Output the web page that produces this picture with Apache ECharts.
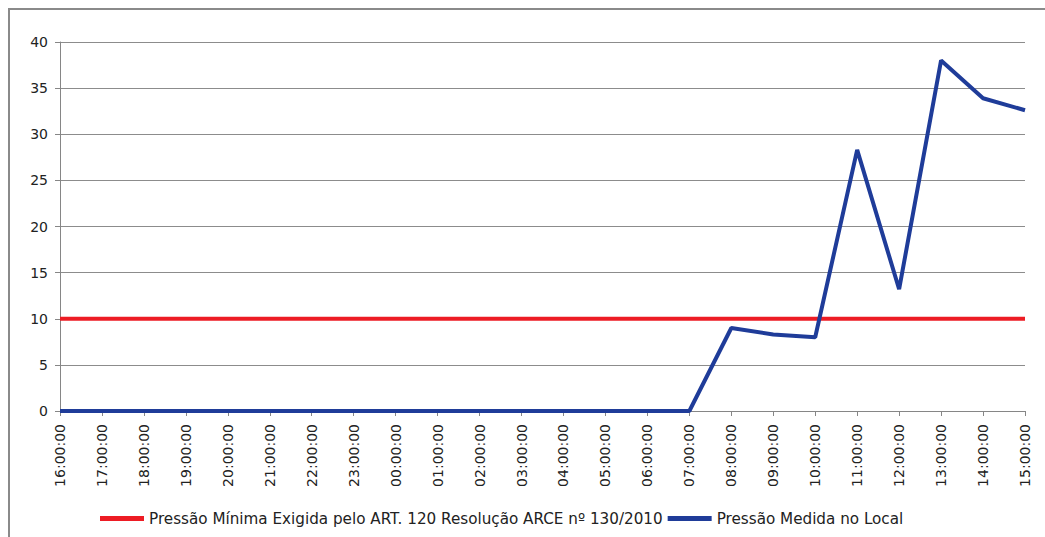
<!DOCTYPE html>
<html>
<head>
<meta charset="utf-8">
<script src="https://cdn.jsdelivr.net/npm/echarts@6/dist/echarts.min.js"></script>
<style>
  html, body { margin: 0; padding: 0; background: #fff; }
  #frame { position: absolute; left: 8px; top: 8px; width: 1100px; height: 600px;
           border-top: 2px solid #8a8a8a; border-left: 2px solid #8a8a8a; }
  #chart { position: absolute; left: 0; top: 0; width: 1045px; height: 537px; }
</style>
</head>
<body>
<div id="frame"></div>
<div id="chart"></div>
<script>
  // hourly readings, 16:00 -> 15:00 next day
  var hours = ['16:00:00', '17:00:00', '18:00:00', '19:00:00', '20:00:00', '21:00:00',
    '22:00:00', '23:00:00', '00:00:00', '01:00:00', '02:00:00', '03:00:00',
    '04:00:00', '05:00:00', '06:00:00', '07:00:00', '08:00:00', '09:00:00',
    '10:00:00', '11:00:00', '12:00:00', '13:00:00', '14:00:00', '15:00:00']
  var minimaExigida = [10, 10, 10, 10, 10, 10, 10, 10, 10, 10, 10, 10,
    10, 10, 10, 10, 10, 10, 10, 10, 10, 10, 10, 10]
  var medidaLocal = [0, 0, 0, 0, 0, 0, 0, 0, 0, 0, 0, 0,
    0, 0, 0, 0, 9, 8.3, 8, 28.3, 13.2, 38, 33.9, 32.6]
  var yTicks = [0, 5, 10, 15, 20, 25, 30, 35, 40]

  var nameMin = 'Pressão Mínima Exigida pelo ART. 120 Resolução ARCE nº 130/2010'
  var nameMed = 'Pressão Medida no Local'

  var chart = echarts.init(document.getElementById('chart'), null, { renderer: 'svg' })
  chart.setOption({
    animation: false,
    textStyle: { fontFamily: 'DejaVu Sans' },
    grid: { left: 60, right: 20, top: 42, bottom: 126, containLabel: false },
    legend: {
      top: 506,
      left: 95,
      itemWidth: 44,
      itemHeight: 5,
      itemGap: 5,
      icon: 'rect',
      textStyle: { fontSize: 15.2, color: '#222', fontFamily: 'DejaVu Sans' },
      data: [nameMin, nameMed]
    },
    xAxis: {
      type: 'category',
      data: hours,
      boundaryGap: false,
      axisLine: { lineStyle: { color: '#868686', width: 1 } },
      axisTick: { show: true, length: 5, lineStyle: { color: '#868686' }, alignWithLabel: true },
      axisLabel: { show: true, rotate: 90, interval: 0, fontSize: 14, color: '#222', margin: 13 }
    },
    yAxis: {
      type: 'value',
      min: yTicks[0],
      max: yTicks[yTicks.length - 1],
      interval: 5,
      axisLine: { show: true, lineStyle: { color: '#868686', width: 1 } },
      axisTick: { show: true, length: 5, lineStyle: { color: '#868686' } },
      splitLine: { lineStyle: { color: '#8c8c8c', width: 1 } },
      axisLabel: { fontSize: 14, color: '#222', margin: 12 }
    },
    series: [
      {
        name: nameMin,
        type: 'line',
        data: minimaExigida,
        symbol: 'none',
        color: '#ed1c24',
        lineStyle: { color: '#ed1c24', width: 4 }
      },
      {
        name: nameMed,
        type: 'line',
        data: medidaLocal,
        symbol: 'none',
        color: '#1f3c99',
        lineStyle: { color: '#1f3c99', width: 4 }
      }
    ]
  })
</script>
</body>
</html>
